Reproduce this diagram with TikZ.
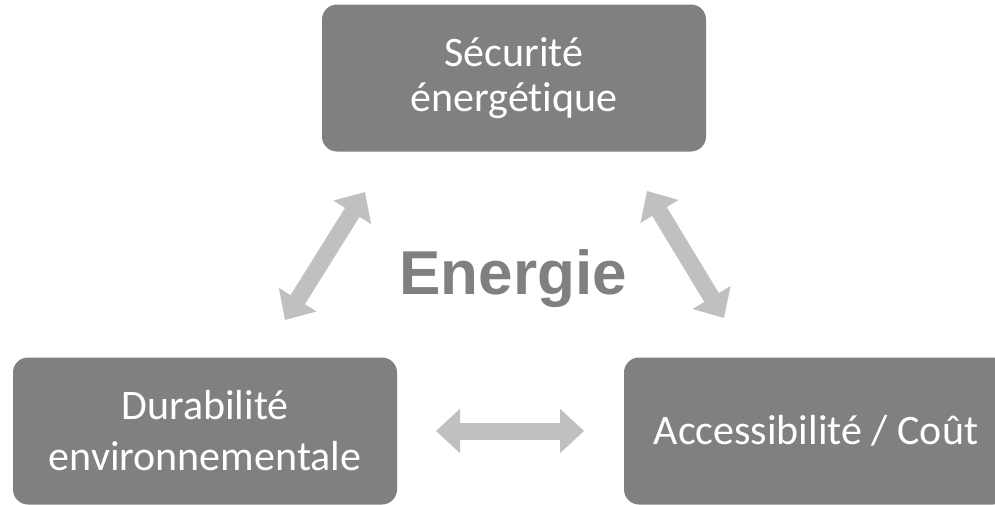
\documentclass[tikz,border=0pt]{standalone}
\usepackage{fontspec}
\setmainfont{Carlito}[Ligatures=NoCommon]
\newfontfamily\arialfont{Liberation Sans}
\usepackage{tikz}
\usetikzlibrary{arrows.meta,positioning}
\definecolor{boxgray}{HTML}{808080}
\definecolor{arrowgray}{HTML}{C0C0C0}
\tikzset{pillar/.style={fill=boxgray,rounded corners=15pt,minimum width=384pt,minimum height=147pt,
    inner sep=0pt,align=center,text=white,font=\fontsize{42}{51}\selectfont}}
\tikzset{link/.style={draw=arrowgray,line width=17pt,
    {Triangle[length=24pt,width=43pt]}-{Triangle[length=24pt,width=43pt]}}}

\begin{document}
\begin{tikzpicture}[x=1pt,y=-1pt]
      \useasboundingbox (0,0) rectangle (995,504);
      \node[pillar](sec) at (514,78){Sécurité\\[-6pt]énergétique};
      \node[pillar](dur) at (205,431){Durabilité\\environnementale};
      \node[pillar](acc) at (816,431){Accessibilité / Coût};

      \node[text=boxgray,font=\arialfont\bfseries\fontsize{62}{62}\selectfont](nrj) at (513,279){Energie};

      \coordinate (sec1) at (365,192);
      \coordinate (dur1) at (285,320);
      \coordinate (sec2) at (647,191);
      \coordinate (acc1) at (724,318);
      \coordinate (dur2) at (436,431);
      \coordinate (acc2) at (584,431);

      \draw[link] (sec1) -- (dur1);
      \draw[link] (sec2) -- (acc1);
      \draw[link] (dur2) -- (acc2);
    \end{tikzpicture}
\end{document}
